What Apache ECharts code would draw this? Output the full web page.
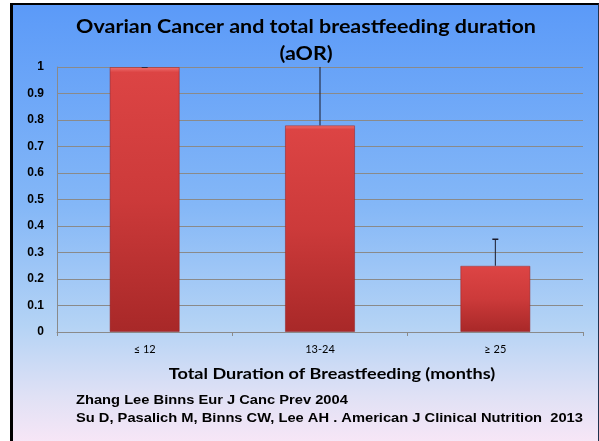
<!DOCTYPE html>
<html>
<head>
<meta charset="utf-8">
<script src="https://cdn.jsdelivr.net/npm/echarts@6/dist/echarts.min.js"></script>
<style>
  html, body { margin: 0; padding: 0; background: #fff; }
  #box {
    position: absolute; left: 10px; top: 3px; width: 585px; height: 445px;
    border-left: 3px solid #000; border-top: 2px solid #000; border-right: 1px solid #1f3350;
    background: linear-gradient(to bottom, #5b9af8 0%, #84b7f7 45%, #b4d3f5 72%, #e0e1f5 88%, #fbe7f7 100%);
  }
  #chart { position: absolute; left: 0; top: 0; width: 599px; height: 441px; }
</style>
</head>
<body>
<div id="box"></div>
<div id="chart"></div>
<script>
const categories = ['≤ 12', '13-24', '≥ 25'];
const aor = [1, 0.78, 0.25];
const ciUpper = [1, 1.1, 0.35];
const yTicks = [0, 0.1, 0.2, 0.3, 0.4, 0.5, 0.6, 0.7, 0.8, 0.9, 1];

const chart = echarts.init(document.getElementById('chart'));

// the slide text is a little stretched sideways
const stretch = 1.13;
const txt = (text, x, y, font, align) => ({
  type: 'text', x, y, scaleX: stretch,
  style: { text, font, fill: '#000', textAlign: align, textVerticalAlign: 'middle' }
});

const option = {
  animation: false,
  grid: { left: 57, right: 16, top: 67, bottom: 109 },
  xAxis: {
    type: 'category',
    data: categories,
    axisLine: { lineStyle: { color: '#8a8a8a', width: 1 } },
    axisTick: { show: true, length: 4, lineStyle: { color: '#8a8a8a' } },
    axisLabel: { margin: 12, fontFamily: 'Lato', fontSize: 11, color: '#000' }
  },
  yAxis: {
    type: 'value',
    min: 0,
    max: 1,
    interval: 0.1,
    axisLine: { show: true, lineStyle: { color: '#8a8a8a' } },
    axisTick: { show: false },
    splitLine: { lineStyle: { color: '#8a8a8a', width: 1 } },
    axisLabel: {
      margin: 13,
      fontFamily: 'Liberation Sans', fontWeight: 'bold', fontSize: 12, color: '#000',
      formatter: v => yTicks.includes(Math.round(v * 10) / 10) ? String(Math.round(v * 10) / 10) : ''
    }
  },
  graphic: [
    txt('Ovarian Cancer and total breastfeeding duration', 306, 27, 'bold 19px Lato', 'center'),
    txt('(aOR)', 306, 54, 'bold 19px Lato', 'center'),
    txt('Total Duration of Breastfeeding (months)', 332, 374, 'bold 16px Lato', 'center'),
    txt('Zhang Lee Binns Eur J Canc Prev 2004', 76, 400, 'bold 13px "Liberation Sans"', 'left'),
    txt('Su D, Pasalich M, Binns CW, Lee AH . American J Clinical Nutrition  2013', 76, 418, 'bold 13px "Liberation Sans"', 'left')
  ],
  series: [
    {
      type: 'bar',
      data: aor,
      barWidth: '40%',
      itemStyle: {
        color: {
          type: 'linear', x: 0, y: 0, x2: 0, y2: 1,
          colorStops: [
            { offset: 0, color: '#f07272' },
            { offset: 0.02, color: '#dc4444' },
            { offset: 0.5, color: '#cc3a3a' },
            { offset: 1, color: '#a82828' }
          ]
        },
        borderColor: 'rgba(150,30,30,0.5)',
        borderWidth: 1
      }
    },
    {
      type: 'custom',
      clip: true,
      data: aor.map((v, i) => [i, v, ciUpper[i]]),
      renderItem: (params, api) => {
        const low = api.coord([api.value(0), api.value(1)]);
        const high = api.coord([api.value(0), api.value(2)]);
        const style = { stroke: '#1a1a2a', lineWidth: 1 };
        return {
          type: 'group',
          children: [
            { type: 'line', shape: { x1: low[0], y1: low[1], x2: high[0], y2: high[1] }, style },
            { type: 'line', shape: { x1: high[0] - 3, y1: high[1], x2: high[0] + 3, y2: high[1] }, style: { stroke: '#1a1a2a', lineWidth: 1.5 } }
          ]
        };
      },
      z: 5
    }
  ]
};

chart.setOption(option);
</script>
</body>
</html>
